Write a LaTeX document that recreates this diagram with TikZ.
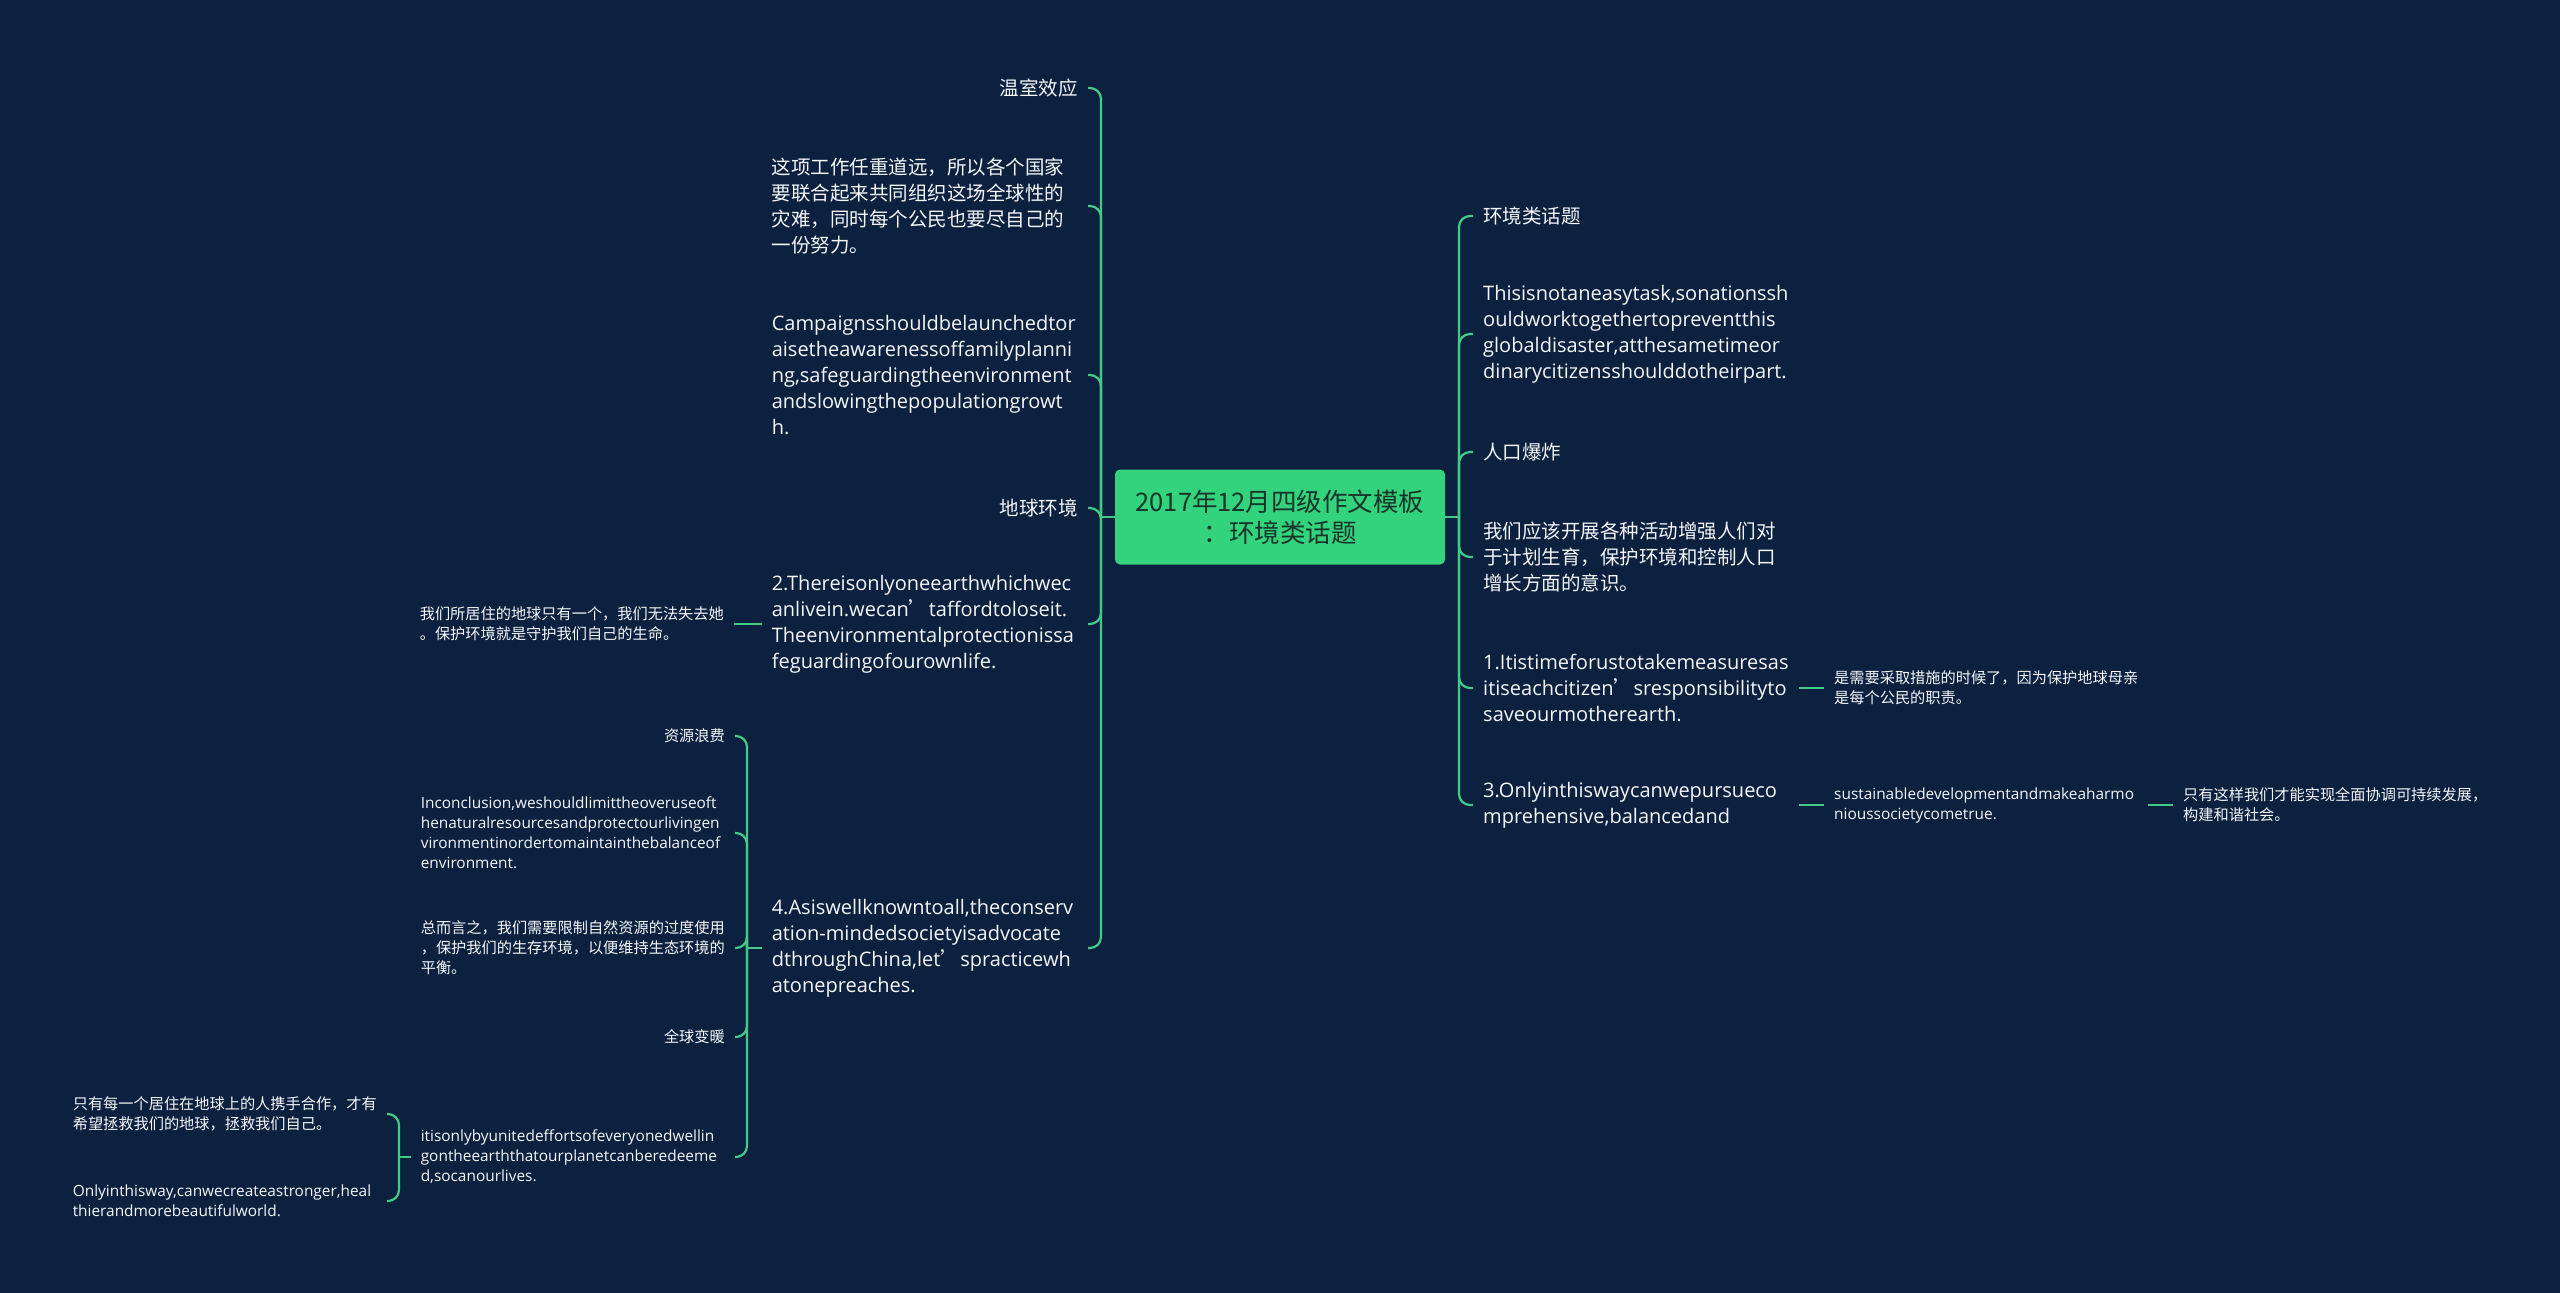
\documentclass[tikz,border=0pt]{standalone}
\usepackage{fontspec}
\setmainfont{Open Sans}
\newfontfamily\cjk{Noto Sans CJK SC}
\hyphenpenalty=10000
\exhyphenpenalty=10000
\definecolor{mmnavy}{HTML}{0C213F}
\definecolor{mmgreen}{HTML}{42CB84}
\definecolor{mmroot}{HTML}{33D27C}
\definecolor{mmdark}{HTML}{17352A}
\definecolor{mmwhite}{HTML}{F4F6F8}

\begin{document}
\begin{tikzpicture}[
  x=1pt, y=-1pt,
  every node/.style={text=mmwhite, inner ysep=2pt},
  rootnode/.style={rectangle, rounded corners=5pt, fill=mmroot, text=mmdark, minimum width=330pt, minimum height=95pt, align=center, font=\cjk\fontsize{25.5}{31}\selectfont},
  leftnode/.style={anchor=east, inner xsep=10pt},
  rightnode/.style={anchor=west, inner xsep=10pt},
  cnbig/.style={font=\cjk\fontsize{19.5}{26}\selectfont},
  enbig/.style={font=\fontsize{20}{26}\selectfont},
  cnsmall/.style={font=\cjk\fontsize{15.2}{20}\selectfont},
  ensmall/.style={font=\fontsize{15.4}{20}\selectfont},
  bigbox/.style={text width=306pt, align=left},
  smallbox/.style={text width=304pt, align=left},
  link/.style={draw=mmgreen, line width=2.2pt, rounded corners=11pt},
]

\fill[mmnavy] (0,0) rectangle (2560,1293);
\useasboundingbox (0,0) rectangle (2560,1293);

% Centre topic
\node[rootnode] (root) at (1280, 517) {2017年12月四级作文模板\\：环境类话题};
\coordinate (lt) at (1101, 517);
\coordinate (rt) at (1459, 517);

% Left side: first level
\node[leftnode, cnbig] (l1) at (1088, 88) {温室效应};
\node[leftnode, cnbig, bigbox] (l2) at (1088, 206) {这项工作任重道远，所以各个国家\\要联合起来共同组织这场全球性的\\灾难，同时每个公民也要尽自己的\\一份努力。};
\node[leftnode, enbig, bigbox] (l3) at (1088, 375) {Campaignsshouldbelaunchedtor\\aisetheawarenessoffamilyplanni\\ng,safeguardingtheenvironment\\andslowingthepopulationgrowt\\h.};
\node[leftnode, cnbig] (l4) at (1088, 508) {地球环境};
\node[leftnode, enbig, bigbox] (l5) at (1088, 624) {2.Thereisonlyoneearthwhichwec\\anlivein.wecan{\cjk ’}taffordtoloseit.\\Theenvironmentalprotectionissa\\feguardingofourownlife.};
\node[leftnode, enbig, bigbox] (l6) at (1088, 948) {4.Asiswellknowntoall,theconserv\\ation-mindedsocietyisadvocate\\dthroughChina,let{\cjk ’}spracticewh\\atonepreaches.};

% Left side: second level
\node[leftnode, cnsmall, smallbox] (a1) at (734, 624) {我们所居住的地球只有一个，我们无法失去她\\。保护环境就是守护我们自己的生命。};
\coordinate (s6) at (747, 948);
\node[leftnode, cnsmall] (b1) at (735, 736) {资源浪费};
\node[leftnode, ensmall, smallbox] (b2) at (735, 833) {Inconclusion,weshouldlimittheoveruseoft\\henaturalresourcesandprotectourlivingen\\vironmentinordertomaintainthebalanceof\\environment.};
\node[leftnode, cnsmall, smallbox] (b3) at (735, 948) {总而言之，我们需要限制自然资源的过度使用\\，保护我们的生存环境，以便维持生态环境的\\平衡。};
\node[leftnode, cnsmall] (b4) at (735, 1037) {全球变暖};
\node[leftnode, ensmall, smallbox] (b5) at (735, 1157) {itisonlybyunitedeffortsofeveryonedwellin\\gontheearththatourplanetcanberedeeme\\d,socanourlives.};

% Left side: third level
\coordinate (s5) at (399, 1157);
\node[leftnode, cnsmall, smallbox] (c1) at (387, 1114) {只有每一个居住在地球上的人携手合作，才有\\希望拯救我们的地球，拯救我们自己。};
\node[leftnode, ensmall, smallbox] (c2) at (387, 1201) {Onlyinthisway,canwecreateastronger,heal\\thierandmorebeautifulworld.};

% Right side
\node[rightnode, cnbig] (r1) at (1473, 216) {环境类话题};
\node[rightnode, enbig, bigbox] (r2) at (1473, 334) {Thisisnotaneasytask,sonationssh\\ouldworktogethertopreventthis\\globaldisaster,atthesametimeor\\dinarycitizensshoulddotheirpart.};
\node[rightnode, cnbig] (r3) at (1473, 452) {人口爆炸};
\node[rightnode, cnbig, bigbox] (r4) at (1473, 557) {我们应该开展各种活动增强人们对\\于计划生育，保护环境和控制人口\\增长方面的意识。};
\node[rightnode, enbig, bigbox] (r5) at (1473, 688) {1.Itistimeforustotakemeasuresas\\itiseachcitizen{\cjk ’}sresponsibilityto\\saveourmotherearth.};
\node[rightnode, enbig, bigbox] (r6) at (1473, 805) {3.Onlyinthiswaycanwepursueco\\mprehensive,balancedand};

\node[rightnode, cnsmall, smallbox] (d1) at (1824, 688) {是需要采取措施的时候了，因为保护地球母亲\\是每个公民的职责。};
\node[rightnode, ensmall, smallbox] (d2) at (1824, 805) {sustainabledevelopmentandmakeaharmo\\nioussocietycometrue.};
\node[rightnode, cnsmall, smallbox] (e1) at (2173, 805) {只有这样我们才能实现全面协调可持续发展，\\构建和谐社会。};

% Connectors
\draw[link] (root.west) -- (lt);
\draw[link] (root.east) -- (rt);
\foreach \n in {l1,l2,l3,l4,l5,l6}
  \draw[link] (lt) |- (\n.east);
\foreach \n in {r1,r2,r3,r4,r5,r6}
  \draw[link] (rt) |- (\n.west);
\draw[link] (l5.west) -- (a1.east);
\draw[link] (l6.west) -- (s6);
\foreach \n in {b1,b2,b3,b4,b5}
  \draw[link] (s6) |- (\n.east);
\draw[link] (b5.west) -- (s5);
\foreach \n in {c1,c2}
  \draw[link] (s5) |- (\n.east);
\draw[link] (r5.east) -- (d1.west);
\draw[link] (r6.east) -- (d2.west);
\draw[link] (d2.east) -- (e1.west);

\end{tikzpicture}
\end{document}
